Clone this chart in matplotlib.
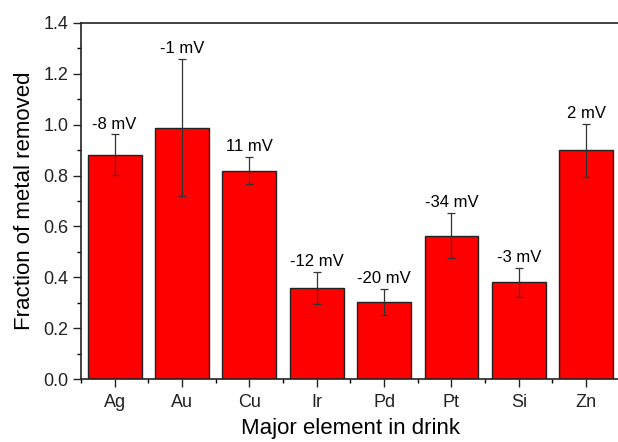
import matplotlib.pyplot as plt
from matplotlib.ticker import MultipleLocator

plt.rcParams['font.family'] = ['Liberation Sans', 'DejaVu Sans']

# data
elements = ['Ag', 'Au', 'Cu', 'Ir', 'Pd', 'Pt', 'Si', 'Zn']
fraction = [0.882, 0.988, 0.819, 0.357, 0.303, 0.564, 0.380, 0.899]
errors = [0.080, 0.270, 0.054, 0.063, 0.051, 0.090, 0.057, 0.104]
zeta = ['-8 mV', '-1 mV', '11 mV', '-12 mV', '-20 mV', '-34 mV', '-3 mV', '2 mV']

fig = plt.figure(figsize=(6.18, 4.42), dpi=100)
ax = fig.add_axes([0.131, 0.1425, 0.872, 0.8055])

x = list(range(1, len(elements) + 1))
ax.bar(x, fraction, width=0.8, color='#ff0000', edgecolor='#222222', linewidth=1.0,
       yerr=errors, error_kw=dict(ecolor='#333333', elinewidth=0.9, capsize=3, capthick=0.9))

for xi, v, e, lab in zip(x, fraction, errors, zeta):
    ax.annotate(lab, (xi, v + e), xytext=(0, 2), textcoords='offset points',
                ha='center', va='bottom', fontsize=12)

ax.set_xlim(0.5, 8.5)
ax.set_ylim(0, 1.4)
ax.set_xticks(x)
ax.set_xticklabels(elements)
ax.set_xticks([i + 0.5 for i in range(0, 9)], minor=True)
ax.yaxis.set_major_locator(MultipleLocator(0.2))
ax.yaxis.set_minor_locator(MultipleLocator(0.1))
ax.tick_params(axis='both', which='major', direction='out', length=6, width=1,
               labelsize=13, colors='#222222', pad=3)
ax.tick_params(axis='both', which='minor', direction='out', length=3, width=1)
ax.tick_params(axis='x', which='major', pad=5)

for s in ax.spines.values():
    s.set_linewidth(1.2)
    s.set_color('#222222')

ax.set_xlabel('Major element in drink', fontsize=16, labelpad=5)
ax.set_ylabel('Fraction of metal removed', fontsize=16, labelpad=6)

fig.savefig('out.png', dpi=100)
